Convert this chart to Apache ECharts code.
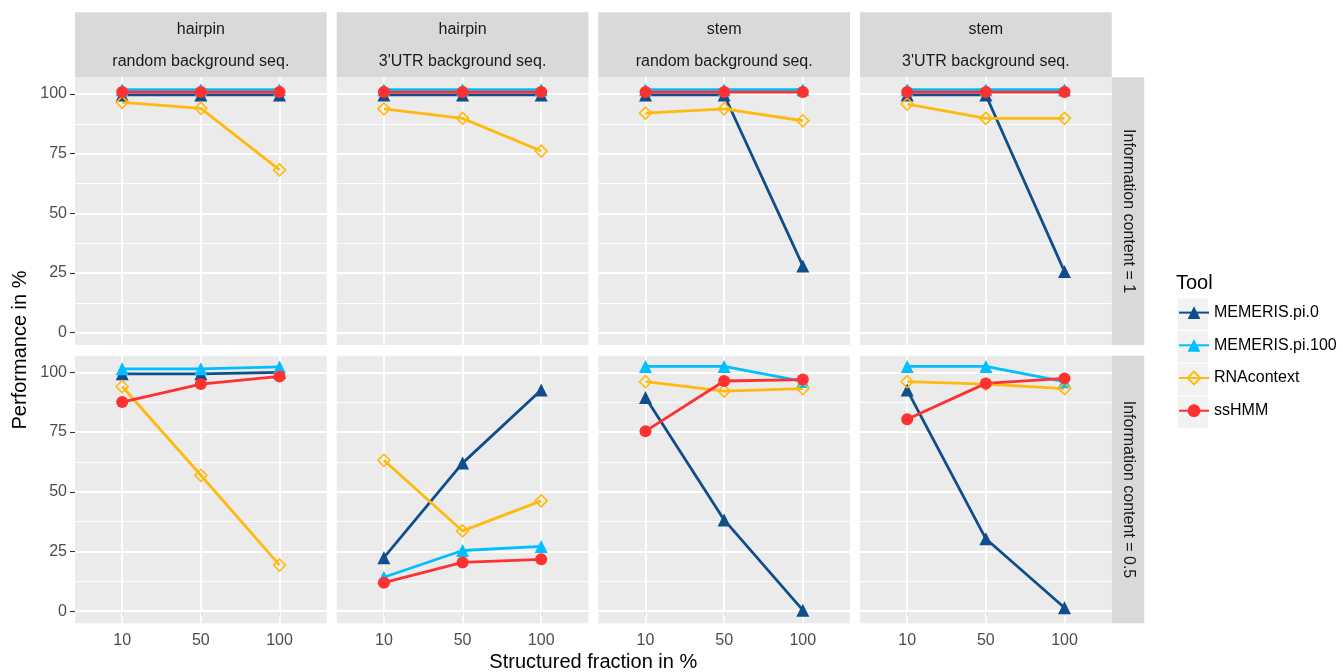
<!DOCTYPE html>
<html>
<head>
<meta charset="utf-8">
<script src="https://cdn.jsdelivr.net/npm/echarts@6/dist/echarts.min.js"></script>
<style>
  html, body { margin: 0; padding: 0; background: #fff; }
  #chart { width: 1343px; height: 672px; }
</style>
</head>
<body>
<div id="chart"></div>
<script>
  // facet labels
  var structures = ['hairpin', 'hairpin', 'stem', 'stem'];
  var backgrounds = ['random background seq.', "3'UTR background seq.", 'random background seq.', "3'UTR background seq."];
  var infoContents = ['Information content = 1', 'Information content = 0.5'];
  // x categories (structured fraction) and y ticks
  var fractions = ['10', '50', '100'];
  var yTicks = [0, 25, 50, 75, 100];
  var yMinor = [12.5, 37.5, 62.5, 87.5];

  var tools = ['MEMERIS.pi.0', 'MEMERIS.pi.100', 'RNAcontext', 'ssHMM'];

  // values per panel, row by row (IC = 1 first, then IC = 0.5)
  var memerisPi0 = [
    [99.6, 99.6, 99.6], [99.6, 99.6, 99.6], [99.6, 99.6, 28], [99.6, 99.6, 25.6],
    [99.4, 99.4, 100], [22.4, 62, 92.6], [89.5, 38.2, 0.4], [92.6, 30.3, 1.4]
  ];
  var memerisPi100 = [
    [101.8, 101.8, 101.8], [101.8, 101.8, 101.8], [101.8, 101.8, 101.8], [101.8, 101.8, 101.8],
    [101.5, 101.5, 102.3], [14.2, 25.4, 27.1], [102.5, 102.5, 96.2], [102.5, 102.5, 96.1]
  ];
  var rnacontext = [
    [96.5, 94, 68.2], [93.8, 89.8, 76.1], [92, 93.8, 88.8], [95.8, 89.8, 89.8],
    [94.1, 56.9, 19.3], [63.2, 33.6, 46.2], [96.1, 92.2, 93.2], [96.1, 95.1, 93.2]
  ];
  var sshmm = [
    [100.8, 100.8, 100.8], [100.8, 100.8, 100.8], [100.8, 100.8, 100.8], [100.8, 100.8, 100.8],
    [87.6, 95.1, 98.3], [11.9, 20.4, 21.7], [75.4, 96.4, 97], [80.4, 95.4, 97.5]
  ];

  var toolValues = [memerisPi0, memerisPi100, rnacontext, sshmm];
  var toolColors = ['#104E8B', '#00BFFF', '#FFB90F', '#FF3030'];
  var toolSymbols = ['triangle', 'triangle', 'diamond', 'circle'];
  var toolSymbolSize = [13, 13, 12, 12];

  var font = 'Liberation Sans, Arial, Helvetica, sans-serif';

  // panel geometry
  var colLeft = [75, 336.7, 598.3, 860];
  var panelW = 251.7;
  var rowTop = [77.3, 355.7];
  var panelH = 267.6;

  var grids = [], xAxes = [], yAxes = [], series = [], graphics = [];

  for (var r = 0; r < 2; r++) {
    for (var c = 0; c < 4; c++) {
      var i = r * 4 + c;
      grids.push({
        left: colLeft[c], top: rowTop[r], width: panelW, height: panelH,
        show: true, backgroundColor: '#EBEBEB', borderWidth: 0
      });
      xAxes.push({
        gridIndex: i, type: 'value', min: 0.4, max: 3.6,
        axisLine: { show: false },
        splitLine: { show: false },
        axisTick: { show: r === 1, customValues: [1, 2, 3], length: 5, lineStyle: { color: '#333333', width: 1.1 } },
        axisLabel: {
          show: r === 1, customValues: [1, 2, 3], margin: 9,
          color: '#4D4D4D', fontSize: 16, fontFamily: font,
          formatter: function (v) { return fractions[Math.round(v) - 1]; }
        }
      });
      yAxes.push({
        gridIndex: i, type: 'value', min: -5.1, max: 107,
        axisLine: { show: false },
        splitLine: { show: false },
        axisTick: { show: c === 0, customValues: yTicks, length: 5, lineStyle: { color: '#333333', width: 1.1 } },
        axisLabel: { show: c === 0, customValues: yTicks, margin: 8, color: '#4D4D4D', fontSize: 16, fontFamily: font }
      });

      // white grid lines, kept under the data
      var gl = [];
      yMinor.forEach(function (v) { gl.push({ yAxis: v, lineStyle: { color: '#fff', width: 0.9, type: 'solid' } }); });
      yTicks.forEach(function (v) { gl.push({ yAxis: v, lineStyle: { color: '#fff', width: 1.8, type: 'solid' } }); });
      [1, 2, 3].forEach(function (v) { gl.push({ xAxis: v, lineStyle: { color: '#fff', width: 1.8, type: 'solid' } }); });
      series.push({
        name: 'grid' + i, type: 'line', xAxisIndex: i, yAxisIndex: i, data: [], z: 1, silent: true,
        markLine: { z: 1, silent: true, symbol: 'none', label: { show: false }, animation: false, data: gl }
      });

      tools.forEach(function (t, k) {
        var vals = toolValues[k][i];
        var hollow = k === 2;
        series.push({
          name: t, type: 'line', xAxisIndex: i, yAxisIndex: i,
          data: vals.map(function (v, j) { return [j + 1, v]; }),
          symbol: toolSymbols[k], symbolSize: toolSymbolSize[k], showSymbol: true,
          lineStyle: { color: toolColors[k], width: 2.8 },
          itemStyle: hollow
            ? { color: 'rgba(255,255,255,0)', borderColor: toolColors[k], borderWidth: 1.6 }
            : { color: toolColors[k], borderWidth: 0 },
          emphasis: { disabled: true },
          z: 3
        });
      });
    }
  }

  // top strips
  for (var c2 = 0; c2 < 4; c2++) {
    graphics.push({ type: 'rect', z: 0, shape: { x: colLeft[c2], y: 12.3, width: panelW, height: 65 }, style: { fill: '#D9D9D9' } });
    graphics.push({ type: 'text', x: colLeft[c2] + panelW / 2, y: 29.5, style: { text: structures[c2], align: 'center', verticalAlign: 'middle', fontSize: 16, fontFamily: font, fill: '#1A1A1A' } });
    graphics.push({ type: 'text', x: colLeft[c2] + panelW / 2, y: 61.5, style: { text: backgrounds[c2], align: 'center', verticalAlign: 'middle', fontSize: 16, fontFamily: font, fill: '#1A1A1A' } });
  }
  // right strips
  for (var r2 = 0; r2 < 2; r2++) {
    graphics.push({ type: 'rect', z: 0, shape: { x: 1111.7, y: rowTop[r2], width: 32.6, height: panelH }, style: { fill: '#D9D9D9' } });
    graphics.push({ type: 'text', x: 1128, y: rowTop[r2] + panelH / 2, rotation: -Math.PI / 2, style: { text: infoContents[r2], align: 'center', verticalAlign: 'middle', fontSize: 16, fontFamily: font, fill: '#1A1A1A' } });
  }
  // axis titles
  graphics.push({ type: 'text', x: 593.3, y: 662, style: { text: 'Structured fraction in %', align: 'center', verticalAlign: 'middle', fontSize: 20, fontFamily: font, fill: '#000' } });
  graphics.push({ type: 'text', x: 20, y: 350, rotation: Math.PI / 2, style: { text: 'Performance in %', align: 'center', verticalAlign: 'middle', fontSize: 20, fontFamily: font, fill: '#000' } });
  // legend title + key backgrounds
  graphics.push({ type: 'text', x: 1176, y: 283, style: { text: 'Tool', align: 'left', verticalAlign: 'middle', fontSize: 20, fontFamily: font, fill: '#000' } });
  for (var k2 = 0; k2 < tools.length; k2++) {
    graphics.push({ type: 'rect', z: 0, shape: { x: 1177.7, y: 298.3 + k2 * 32.7, width: 30.3, height: 31.7 }, style: { fill: '#F2F2F2' } });
  }

  var chart = echarts.init(document.getElementById('chart'));
  chart.setOption({
    animation: false,
    backgroundColor: '#fff',
    textStyle: { fontFamily: font },
    grid: grids,
    xAxis: xAxes,
    yAxis: yAxes,
    legend: {
      data: tools, orient: 'vertical', left: 1178, top: 304.6, padding: 0,
      itemWidth: 30, itemHeight: 16, itemGap: 16.7, selectedMode: false,
      textStyle: { fontSize: 16, color: '#000', fontFamily: font }
    },
    graphic: graphics,
    series: series
  });
</script>
</body>
</html>
